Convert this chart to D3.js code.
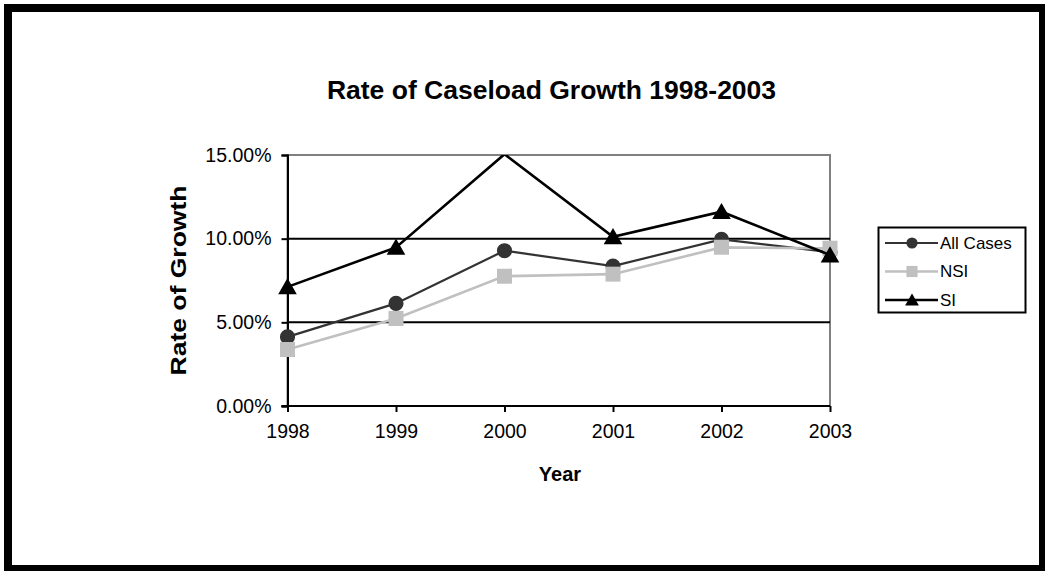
<!DOCTYPE html>
<html>
<head>
<meta charset="utf-8">
<script src="https://cdn.jsdelivr.net/npm/d3@7"></script>
<style>
  body { margin: 0; background: #fff; }
  svg { display: block; font-family: "Liberation Sans", Arial, sans-serif; }
</style>
</head>
<body>
<div id="chart"></div>
<script>
// Rate of Caseload Growth 1998-2003 (Excel style line chart)

const years = ['1998', '1999', '2000', '2001', '2002', '2003']
const yTicks = [0, 0.05, 0.10, 0.15]

const allCases = [0.0413, 0.0613, 0.0928, 0.0836, 0.0996, 0.0920]
const nsi = [0.0337, 0.0523, 0.0776, 0.0788, 0.0948, 0.0942]
const si = [0.0712, 0.0948, 0.1505, 0.1011, 0.1161, 0.0902]

const seriesNames = ['All Cases', 'NSI', 'SI']

const W = 1045, H = 571
const plot = { left: 287.5, right: 830, top: 155, bottom: 406 }

const svg = d3.select('#chart')
    .append('svg')
    .attr('width', W)
    .attr('height', H)

// outer frame
svg.append('rect')
    .attr('x', 8).attr('y', 8)
    .attr('width', 1035).attr('height', 561)
    .attr('fill', '#fff')
    .attr('stroke', '#000')
    .attr('stroke-width', 8)

const x = d3.scalePoint()
    .domain(years)
    .range([plot.left, plot.right])

const y = d3.scaleLinear()
    .domain([0, 0.15])
    .range([plot.bottom, plot.top])

svg.append('clipPath')
    .attr('id', 'plot-clip')
    .append('rect')
    .attr('x', plot.left - 20).attr('y', plot.top)
    .attr('width', plot.right - plot.left + 40)
    .attr('height', plot.bottom - plot.top + 20)

// plot area border (gray)
svg.append('rect')
    .attr('x', plot.left).attr('y', plot.top)
    .attr('width', plot.right - plot.left)
    .attr('height', plot.bottom - plot.top)
    .attr('fill', '#fff')
    .attr('stroke', '#808080')
    .attr('stroke-width', 2)

// gridlines
svg.append('g')
    .selectAll('line')
    .data(yTicks.filter(d => d > 0 && d < 0.15))
    .join('line')
    .attr('x1', plot.left).attr('x2', plot.right)
    .attr('y1', d => y(d)).attr('y2', d => y(d))
    .attr('stroke', '#000')
    .attr('stroke-width', 2)

// y axis
const yAxis = svg.append('g')
    .attr('transform', `translate(${plot.left},0)`)
    .call(d3.axisLeft(y)
        .tickValues(yTicks)
        .tickFormat(d3.format('.2%'))
        .tickSize(6)
        .tickPadding(10))
yAxis.select('.domain').attr('stroke', '#000').attr('stroke-width', 2)
yAxis.selectAll('.tick line').attr('stroke', '#000').attr('stroke-width', 2)
yAxis.selectAll('.tick text')
    .attr('font-family', '"Liberation Sans", Arial, sans-serif')
    .attr('font-size', 19.5)
    .attr('fill', '#000')

// x axis
const xAxis = svg.append('g')
    .attr('transform', `translate(0,${plot.bottom})`)
    .call(d3.axisBottom(x)
        .tickSize(6)
        .tickPadding(12))
xAxis.select('.domain').attr('stroke', '#000').attr('stroke-width', 2)
    .attr('d', `M${plot.left - 6},0H${plot.right}`)
xAxis.selectAll('.tick line').attr('stroke', '#000').attr('stroke-width', 2)
xAxis.selectAll('.tick text')
    .attr('font-family', '"Liberation Sans", Arial, sans-serif')
    .attr('font-size', 19.5)
    .attr('fill', '#000')

// titles
svg.append('text')
    .attr('x', 551.5).attr('y', 99)
    .attr('text-anchor', 'middle')
    .attr('font-size', 26.5)
    .attr('font-weight', 'bold')
    .text('Rate of Caseload Growth 1998-2003')

svg.append('text')
    .attr('x', 560).attr('y', 481)
    .attr('text-anchor', 'middle')
    .attr('font-size', 20)
    .attr('font-weight', 'bold')
    .text('Year')

svg.append('text')
    .attr('transform', `translate(186,${(plot.top + plot.bottom) / 2}) rotate(-90)`)
    .attr('text-anchor', 'middle')
    .attr('font-size', 22)
    .attr('font-weight', 'bold')
    .attr('textLength', 190)
    .attr('lengthAdjust', 'spacingAndGlyphs')
    .text('Rate of Growth')

// series
const series = [
    { name: seriesNames[0], values: allCases, color: '#333333', width: 2.2, marker: 'circle' },
    { name: seriesNames[1], values: nsi, color: '#c0c0c0', width: 2.6, marker: 'square' },
    { name: seriesNames[2], values: si, color: '#000000', width: 2.6, marker: 'triangle' }
]

const symbolFor = (m, scale) => {
    if (m === 'circle') return d3.symbol(d3.symbolCircle, 180 * scale)()
    if (m === 'square') return d3.symbol(d3.symbolSquare, 225 * scale)()
    return d3.symbol(d3.symbolTriangle, 150 * scale)()
}

const line = d3.line()
    .x((d, i) => x(years[i]))
    .y(d => y(d))

const yMax = y.domain()[1]

series.forEach(s => {
    const g = svg.append('g').attr('clip-path', 'url(#plot-clip)')
    g.append('path')
        .datum(s.values)
        .attr('d', line)
        .attr('fill', 'none')
        .attr('stroke', s.color)
        .attr('stroke-width', s.width)
        .attr('stroke-linejoin', 'miter')
    // markers for points beyond the axis maximum are not drawn (Excel behaviour)
    g.selectAll('path.mark')
        .data(s.values.map((v, i) => ({ v, i })).filter(d => d.v <= yMax))
        .join('path')
        .attr('class', 'mark')
        .attr('transform', d => `translate(${x(years[d.i])},${y(d.v) + (s.marker === 'triangle' ? 2 : 0)})`)
        .attr('d', symbolFor(s.marker, 1))
        .attr('fill', s.color)
})

// legend
const legend = svg.append('g')
legend.append('rect')
    .attr('x', 878.5).attr('y', 227.5)
    .attr('width', 147).attr('height', 85)
    .attr('fill', '#fff')
    .attr('stroke', '#000')
    .attr('stroke-width', 2)

const legendY = [243, 271.5, 300]
series.forEach((s, i) => {
    const row = legend.append('g').attr('transform', `translate(0,${legendY[i]})`)
    row.append('line')
        .attr('x1', 885).attr('x2', 938)
        .attr('y1', 0).attr('y2', 0)
        .attr('stroke', s.color)
        .attr('stroke-width', s.width)
    row.append('path')
        .attr('transform', `translate(912,${s.marker === 'triangle' ? 1.5 : 0})`)
        .attr('d', symbolFor(s.marker, 0.55))
        .attr('fill', s.color)
    row.append('text')
        .attr('x', 940).attr('y', 0)
        .attr('dy', '0.35em')
        .attr('font-size', 17)
        .text(s.name)
})
</script>
</body>
</html>
